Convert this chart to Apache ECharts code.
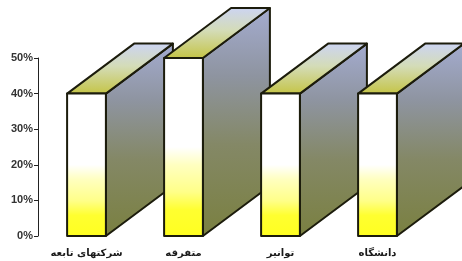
<!DOCTYPE html>
<html>
<head>
<meta charset="utf-8">
<script src="https://cdn.jsdelivr.net/npm/echarts@6/dist/echarts.min.js"></script>
<style>
  html, body { margin: 0; padding: 0; background: #fff; }
  #chart { width: 462px; height: 261px; }
</style>
</head>
<body>
<div id="chart"></div>
<script>
const categories = ["شرکتهای تابعه", "متفرقه", "توانیر", "دانشگاه"];
const values = [40, 50, 40, 40];
const yMin = 0;
const yMax = 50;
const yStep = 10;

// depth of the 3d boxes, in pixels
const depthX = 67;
const depthY = -50;
const edge = "#1c1c0c";

function grad(stops) {
  return new echarts.graphic.LinearGradient(0, 0, 0, 1,
    stops.map(([offset, color]) => ({ offset, color })));
}

function renderBox(params, api) {
  const top = api.coord([api.value(0), api.value(1)]);
  const base = api.coord([api.value(0), 0]);
  const w = api.size([1, 0])[0] * 0.4;
  const L = top[0] - w / 2;
  const R = top[0] + w / 2;
  const t = top[1];
  const b = base[1];

  return {
    type: "group",
    children: [
      {
        type: "polygon",
        shape: { points: [[R, t], [R + depthX, t + depthY], [R + depthX, b + depthY], [R, b]] },
        style: {
          fill: grad([[0, "#a4acd0"], [0.3, "#8e94a0"], [0.6, "#848866"], [1, "#7a8040"]]),
          stroke: edge, lineWidth: 2, lineJoin: "round"
        }
      },
      {
        type: "polygon",
        shape: { points: [[L, t], [R, t], [R + depthX, t + depthY], [L + depthX, t + depthY]] },
        style: {
          fill: grad([[0, "#ccd4f4"], [0.45, "#d4dcb8"], [1, "#c4c444"]]),
          stroke: edge, lineWidth: 2, lineJoin: "round"
        }
      },
      {
        type: "rect",
        shape: { x: L, y: t, width: w, height: b - t },
        style: {
          fill: grad([[0, "#ffffff"], [0.5, "#ffffff"], [0.6, "#ffffc0"], [0.75, "#ffff88"], [0.85, "#ffff30"], [1, "#ffff20"]]),
          stroke: edge, lineWidth: 2, lineJoin: "round"
        }
      }
    ]
  };
}

const chart = echarts.init(document.getElementById("chart"));
chart.setOption({
  animation: false,
  grid: { left: 38, right: 36, top: 58, bottom: 25 },
  xAxis: {
    type: "category",
    data: categories,
    axisLine: { show: false },
    axisTick: { show: false },
    axisLabel: {
      color: "#1a1a1a",
      fontFamily: "DejaVu Sans",
      fontWeight: "bold",
      fontSize: 10,
      margin: 12
    }
  },
  yAxis: {
    type: "value",
    min: yMin,
    max: yMax,
    interval: yStep,
    splitLine: { show: false },
    axisLine: { show: true, lineStyle: { color: "#222", width: 1 } },
    axisTick: { show: true, length: 4, lineStyle: { color: "#222" } },
    axisLabel: {
      formatter: "{value}%",
      color: "#333",
      fontFamily: "Liberation Sans",
      fontWeight: "bold",
      fontSize: 11,
      margin: 5
    }
  },
  series: [
    {
      type: "custom",
      renderItem: renderBox,
      data: values.map((v, i) => [i, v])
    }
  ]
});
</script>
</body>
</html>
